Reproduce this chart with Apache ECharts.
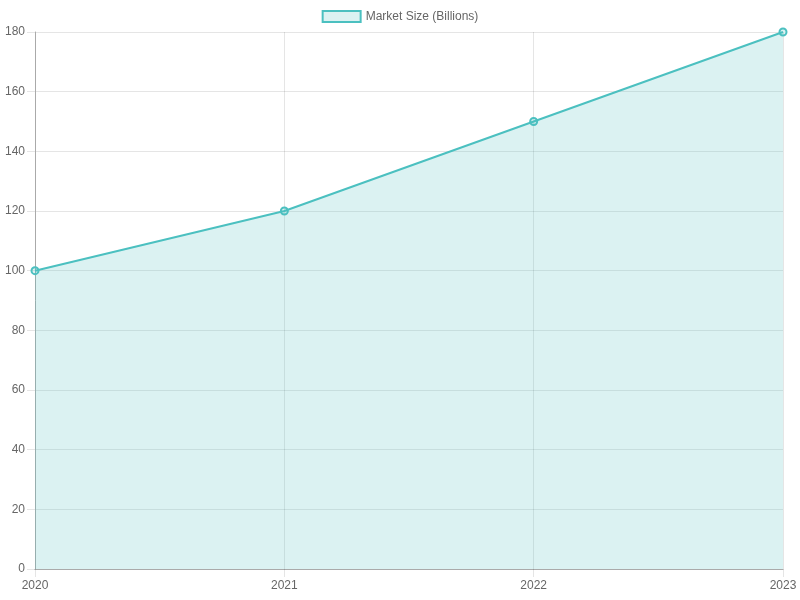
<!DOCTYPE html>
<html>
<head>
<meta charset="utf-8">
<script src="https://cdn.jsdelivr.net/npm/echarts@6/dist/echarts.min.js"></script>
<style>
  html, body { margin: 0; padding: 0; background: #fff; }
  #chart { width: 800px; height: 600px; }
</style>
</head>
<body>
<div id="chart"></div>
<script>
// data
const years = ['2020', '2021', '2022', '2023']
const marketSize = [100, 120, 150, 180]
const seriesName = 'Market Size (Billions)'

const teal = 'rgb(75,192,192)'
const tealFill = 'rgba(75,192,192,0.2)'
const gridColor = 'rgba(0,0,0,0.1)'
const font = 'Liberation Sans, Arial, sans-serif'

const chart = echarts.init(document.getElementById('chart'))
chart.setOption({
  animation: false,
  textStyle: { fontFamily: font },
  legend: {
    top: 5,
    left: 'center',
    icon: 'rect',
    itemWidth: 38,
    itemHeight: 11,
    itemGap: 10,
    textStyle: { color: '#666', fontSize: 12, fontFamily: font },
    data: [{
      name: seriesName,
      itemStyle: { color: tealFill, borderColor: teal, borderWidth: 2 }
    }]
  },
  grid: { left: 35, right: 17, top: 32, bottom: 31, containLabel: false },
  xAxis: {
    type: 'category',
    data: years,
    boundaryGap: false,
    axisLine: { lineStyle: { color: '#aaa' } },
    axisTick: { show: true, length: 8, lineStyle: { color: gridColor } },
    axisLabel: { color: '#666', fontSize: 12, margin: 11 },
    splitLine: { show: true, lineStyle: { color: gridColor } }
  },
  yAxis: {
    type: 'value',
    min: 0,
    max: 180,
    interval: 20,
    axisLine: { show: true, lineStyle: { color: '#aaa' } },
    axisTick: { show: true, length: 8, lineStyle: { color: gridColor } },
    axisLabel: { color: '#666', fontSize: 12, margin: 10, padding: [4, 0, 0, 0] },
    splitLine: { show: true, lineStyle: { color: gridColor } }
  },
  series: [{
    name: seriesName,
    type: 'line',
    data: marketSize,
    symbol: 'circle',
    symbolSize: 7,
    lineStyle: { color: teal, width: 2 },
    itemStyle: { color: tealFill, borderColor: teal, borderWidth: 2 },
    areaStyle: { color: tealFill, opacity: 1 },
    z: 3
  }]
})
</script>
</body>
</html>
